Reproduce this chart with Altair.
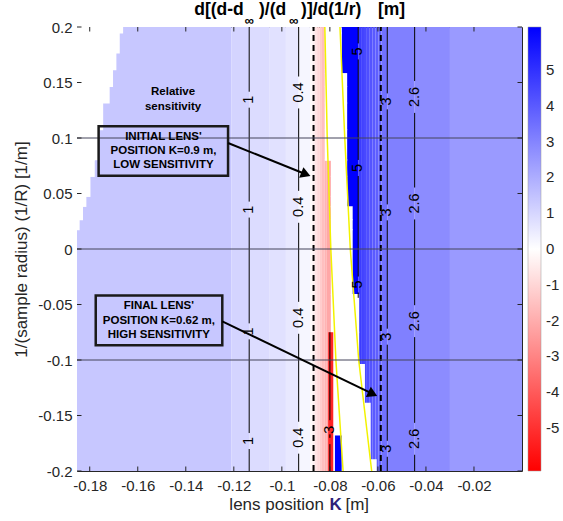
import math
import altair as alt
import pandas as pd

FONT = "Liberation Sans"
INK = "#262626"

# ---------------- axes / scales ----------------
X_MIN, X_MAX = -0.1853, 0.0
Y_MIN, Y_MAX = -0.2, 0.2
PLOT_W, PLOT_H = 445, 444
X_TICKS = [-0.18, -0.16, -0.14, -0.12, -0.1, -0.08, -0.06, -0.04, -0.02]
Y_TICKS = [-0.2, -0.15, -0.1, -0.05, 0, 0.05, 0.1, 0.15, 0.2]
CBAR_TICKS = [-5, -4, -3, -2, -1, 0, 1, 2, 3, 4, 5]
C_DOMAIN = [-6.2, 0, 6.2]
C_RANGE = ["#ff0000", "#ffffff", "#0000ff"]
Y_TITLE = "1/(sample radius) (1/R)  [1/m]"

# ---------------- heat map (vertical bands) ----------------
LEFT_EDGES = [-0.1853, -0.1210, -0.1136, -0.1053, -0.0983, -0.0930, -0.0883,
              -0.0873, -0.0863, -0.0853, -0.0843, -0.0833, -0.0823, -0.0813,
              -0.0803, -0.0796, -0.0786]
LEFT_VALS = [1.35, 1.05, 0.85, 0.72, 0.56, 0.22, -0.1, -0.35, -0.65, -0.95,
             -1.25, -1.55, -1.85, -2.15, -2.45, -2.7]
RIGHT_EDGES = [-0.0751, -0.0682, -0.0670, -0.0658, -0.0646, -0.0634, -0.0622,
               -0.0610, -0.0598, -0.0585, -0.0561, -0.0447, -0.0300, 0.0]
RIGHT_VALS = [6.5, 4.75, 4.6, 4.45, 4.3, 4.15, 4.0, 3.9, 3.8, 3.45, 3.1, 2.8, 2.45]

# white (no data) staircase on the left
WHITE_Y = [0.2, 0.1946, 0.1766, 0.1615, 0.1465, 0.1315, 0.1075, 0.0805, 0.0654,
           0.0474, 0.0384, 0.0264, 0.0174, -0.2]
WHITE_X = [-0.1661, -0.1675, -0.1689, -0.1703, -0.1717, -0.1744, -0.1763, -0.1779,
           -0.1797, -0.1814, -0.1828, -0.1842, -0.1853]
# white (no data) gap between red and blue parts
GAPL_Y = [0.2, 0.08, -0.075, -0.2]
GAPL_X = [-0.0821, -0.0796, -0.0786]
GAPR_Y = [0.2, 0.158, 0.038, -0.041, -0.104, -0.139, -0.19, -0.2]
GAPR_X = [-0.0751, -0.0728, -0.0705, -0.0678, -0.0654, -0.0630, -0.0605]
# narrow strips at the bottom
STRIP_X0 = [-0.0807, -0.0779]
STRIP_X1 = [-0.0786, -0.0751]
STRIP_Y0 = [-0.2, -0.2]
STRIP_Y1 = [-0.075, -0.168]
STRIP_V = [-5.3, 6.5]

# yellow curves
YEL_Y = [0.2, 0.1, 0.0, -0.1, -0.2]
YEL_A_X = [-0.0821, -0.0811, -0.0796, -0.0775, -0.0745]
YEL_B_X = [-0.0758, -0.0738, -0.0715, -0.0680, -0.0626]

# black contour lines and their labels
C_X = [-0.1136, -0.0930, -0.0682, -0.0561, -0.0447, -0.0800]
C_LABEL = ["1", "0.4", "5", "3", "2.6", "-3"]
C_YTOP = [0.2, 0.2, 0.2, 0.2, 0.2, -0.075]
C_YBOT = [-0.2, -0.2, -0.044, -0.2, -0.2, -0.2]
C_LABEL_Y = [[0.1345, 0.0355, -0.0742, -0.173],
             [0.141, 0.038, -0.062, -0.170],
             [0.178, 0.073, -0.032],
             [0.133, 0.033, -0.079, -0.180],
             [0.137, 0.041, -0.065, -0.171],
             [-0.165]]

DASH_X = [-0.0868, -0.0588]
HLINE_Y = [0.1, 0.0, -0.1]

# annotations
NOTE_TEXT = ["Relative", "sensitivity"]
NOTE_X = [-0.1453, -0.1453]
NOTE_Y = [0.141, 0.128]
BOX_X0 = [-0.1763, -0.1775]
BOX_X1 = [-0.1224, -0.1248]
BOX_Y0 = [0.1105, -0.042]
BOX_Y1 = [0.0661, -0.0867]
BOX_TEXT = ["INITIAL LENS'", "POSITION K=0.9 m,", "LOW SENSITIVITY",
            "FINAL LENS'", "POSITION K=0.62 m,", "HIGH SENSITIVITY"]
BOX_TEXT_X = [-0.1493, -0.1493, -0.1493, -0.1512, -0.1512, -0.1512]
BOX_TEXT_Y = [0.1008, 0.0879, 0.0753, -0.0517, -0.0646, -0.0772]
ARROW_X0 = [-0.1224, -0.1248]
ARROW_Y0 = [0.0955, -0.0652]
ARROW_X1 = [-0.0878, -0.0600]
ARROW_Y1 = [0.0654, -0.1328]

TITLE_MAIN = ["d[(d-d", ")/(d", ")]/d(1/r)", "[m]"]
TITLE_MAIN_X = [-0.1365, -0.1095, -0.0920, -0.0600]
TITLE_SUB = ["\u221e", "\u221e"]
TITLE_SUB_X = [-0.1156, -0.0970]
TITLE_Y = 0.2150
TITLE_SUB_Y = 0.2057
XTITLE_Y = -0.2304

# ---------------- build tables ----------------
def lookup(ys, xs, y):
    for i in range(len(xs)):
        if ys[i] >= y >= ys[i + 1]:
            return xs[i]
    return xs[-1]

# full-height colour columns
cols = []
for j, v in enumerate(LEFT_VALS):
    cols.append(dict(x=LEFT_EDGES[j], x2=LEFT_EDGES[j + 1], y=Y_MIN, y2=Y_MAX, v=v))
for j, v in enumerate(RIGHT_VALS):
    cols.append(dict(x=RIGHT_EDGES[j], x2=RIGHT_EDGES[j + 1], y=Y_MIN, y2=Y_MAX, v=v))
cols_df = pd.DataFrame(cols)

# no-data (white) areas, row by row
all_y = sorted(set(WHITE_Y + GAPL_Y + GAPR_Y), reverse=True)
OV = 0.0005
blank = []
for i in range(len(all_y) - 1):
    yt, yb = all_y[i], all_y[i + 1]
    ym = 0.5 * (yt + yb)
    wx = lookup(WHITE_Y, WHITE_X, ym)
    gl = lookup(GAPL_Y, GAPL_X, ym)
    gr = lookup(GAPR_Y, GAPR_X, ym)
    y0 = max(Y_MIN, yb - OV)
    y1 = min(Y_MAX, yt + OV)
    if wx > X_MIN:
        blank.append(dict(x=X_MIN, x2=wx, y=y0, y2=y1))
    blank.append(dict(x=gl, x2=gr, y=y0, y2=y1))
blank_df = pd.DataFrame(blank)

strip_df = pd.DataFrame(dict(x=STRIP_X0, x2=STRIP_X1, y=STRIP_Y0, y2=STRIP_Y1, v=STRIP_V))

yel_df = pd.DataFrame(
    [dict(x=xv, y=yv, line="A", o=i) for i, (xv, yv) in enumerate(zip(YEL_A_X, YEL_Y))]
    + [dict(x=xv, y=yv, line="B", o=i) for i, (xv, yv) in enumerate(zip(YEL_B_X, YEL_Y))]
)

seg, labs = [], []
for cx, lab, ytop, ybot, lys in zip(C_X, C_LABEL, C_YTOP, C_YBOT, C_LABEL_Y):
    half = (len(lab) * 0.55 * 14.5 + 8) / 2 / (PLOT_H / 0.4)
    cur = ytop
    for ly in sorted(lys, reverse=True):
        if cur > ly + half:
            seg.append(dict(x=cx, y=cur, y2=ly + half))
        cur = ly - half
        labs.append(dict(x=cx, y=ly, t=lab))
    if cur > ybot:
        seg.append(dict(x=cx, y=cur, y2=ybot))
seg_df = pd.DataFrame(seg)
lab_df = pd.DataFrame(labs)

dash_df = pd.DataFrame(dict(x=DASH_X, y=[Y_MIN] * 2, y2=[Y_MAX] * 2))
hline_df = pd.DataFrame(dict(y=HLINE_Y, x=[X_MIN] * 3, x2=[X_MAX] * 3))
note_df = pd.DataFrame(dict(x=NOTE_X, y=NOTE_Y, t=NOTE_TEXT))
box_df = pd.DataFrame(dict(x=BOX_X0, x2=BOX_X1, y=BOX_Y0, y2=BOX_Y1))
boxt_df = pd.DataFrame(dict(x=BOX_TEXT_X, y=BOX_TEXT_Y, t=BOX_TEXT))

PXX = PLOT_W / (X_MAX - X_MIN)
PXY = PLOT_H / (Y_MAX - Y_MIN)
HEAD_SIZE = 130
head_r = math.sqrt(HEAD_SIZE) / 2
arrows, heads, angles = [], [], []
for x0, y0, x1, y1 in zip(ARROW_X0, ARROW_Y0, ARROW_X1, ARROW_Y1):
    dx = (x1 - x0) * PXX
    dy = -(y1 - y0) * PXY
    L = math.hypot(dx, dy)
    ux, uy = dx / L, dy / L
    cxp = x1 - head_r * ux / PXX
    cyp = y1 + head_r * uy / PXY
    arrows.append(dict(x=x0, y=y0, x2=cxp, y2=cyp))
    heads.append(dict(x=cxp, y=cyp))
    angles.append(math.degrees(math.atan2(dy, dx)))
arrow_df = pd.DataFrame(arrows)

TL = 4.5
tick_rows = []
for t in X_TICKS:
    tick_rows.append(dict(x=t, x2=t, y=Y_MIN, y2=Y_MIN + TL / PXY))
    tick_rows.append(dict(x=t, x2=t, y=Y_MAX, y2=Y_MAX - TL / PXY))
for t in Y_TICKS:
    tick_rows.append(dict(x=X_MIN, x2=X_MIN + TL / PXX, y=t, y2=t))
    tick_rows.append(dict(x=X_MAX, x2=X_MAX - TL / PXX, y=t, y2=t))
tick_df = pd.DataFrame(tick_rows)

title_df = pd.DataFrame(dict(x=TITLE_MAIN_X, y=[TITLE_Y] * len(TITLE_MAIN), t=TITLE_MAIN))
tsub_df = pd.DataFrame(dict(x=TITLE_SUB_X, y=[TITLE_SUB_Y] * len(TITLE_SUB), t=TITLE_SUB))

# ---------------- chart ----------------
xs = alt.Scale(domain=[X_MIN, X_MAX], nice=False, zero=False)
ys = alt.Scale(domain=[Y_MIN, Y_MAX], nice=False, zero=False)
cs = alt.Scale(type="linear", domain=C_DOMAIN, range=C_RANGE, interpolate="rgb", clamp=True)

X_AXIS = alt.Axis(values=X_TICKS, labelExpr="'' + datum.value", labelFontSize=15,
                  labelFont=FONT, labelColor=INK, tickSize=0, domain=False,
                  grid=False, labelPadding=7, title="")
Y_AXIS = alt.Axis(values=Y_TICKS, labelExpr="'' + datum.value", labelFontSize=15,
                  labelFont=FONT, labelColor=INK, tickSize=0, domain=False,
                  grid=False, labelPadding=5, titleFont=FONT, titleFontSize=17,
                  titleFontWeight="normal", titleColor=INK, titlePadding=7, title=Y_TITLE)
LEGEND = alt.Legend(type="gradient", orient="none", legendX=451, legendY=0,
                    direction="vertical", gradientLength=PLOT_H,
                    gradientThickness=13, values=CBAR_TICKS, title="",
                    labelExpr="'' + datum.value", labelFontSize=15,
                    labelFont=FONT, labelColor=INK, labelOffset=5,
                    labelOverlap=False, gradientStrokeColor="#999999",
                    gradientStrokeWidth=0.5, padding=0, titlePadding=0)


def X(f="x"):
    return alt.X(f + ":Q", scale=xs, axis=X_AXIS)


def Y(f="y"):
    return alt.Y(f + ":Q", scale=ys, axis=Y_AXIS)


cols_layer = alt.Chart(cols_df).mark_rect().encode(
    x=X(), x2="x2:Q", y=Y(), y2="y2:Q",
    color=alt.Color("v:Q", scale=cs, legend=LEGEND),
)

blank_layer = alt.Chart(blank_df).mark_rect(color="white", opacity=1).encode(
    x=X(), x2="x2:Q", y=Y(), y2="y2:Q")

strip_layer = alt.Chart(strip_df).mark_rect().encode(
    x=X(), x2="x2:Q", y=Y(), y2="y2:Q",
    color=alt.Color("v:Q", scale=cs, legend=LEGEND),
)

yel_layer = alt.Chart(yel_df).mark_line(color="#f2f200", strokeWidth=1.5).encode(
    x=X(), y=Y(), detail="line:N", order="o:Q")

seg_layer = alt.Chart(seg_df).mark_rule(color="black", strokeWidth=1).encode(
    x=X(), y=Y(), y2="y2:Q")

lab_layer = alt.Chart(lab_df).mark_text(angle=270, fontSize=14.5, font=FONT, color="black",
                                        baseline="middle", align="center").encode(
    x=X(), y=Y(), text="t:N")

dash_layer = alt.Chart(dash_df).mark_rule(color="black", strokeWidth=2, strokeDash=[6, 4]).encode(
    x=X(), y=Y(), y2="y2:Q")

hline_layer = alt.Chart(hline_df).mark_rule(color="#45455a", strokeWidth=1).encode(
    y=Y(), x=X(), x2="x2:Q")

tick_layer = alt.Chart(tick_df).mark_rule(color=INK, strokeWidth=1).encode(
    x=X(), x2="x2:Q", y=Y(), y2="y2:Q")

note_layer = alt.Chart(note_df).mark_text(fontSize=11.5, fontWeight="bold", font=FONT,
                                          color="black", align="center", baseline="middle").encode(
    x=X(), y=Y(), text="t:N")

box_layer = alt.Chart(box_df).mark_rect(fillOpacity=0, stroke="#1a1a1a", strokeWidth=2.5).encode(
    x=X(), x2="x2:Q", y=Y(), y2="y2:Q")

boxt_layer = alt.Chart(boxt_df).mark_text(fontSize=11.5, fontWeight="bold", font=FONT,
                                          color="black", align="center", baseline="middle").encode(
    x=X(), y=Y(), text="t:N")

arrow_layer = alt.Chart(arrow_df).mark_rule(color="black", strokeWidth=2).encode(
    x=X(), y=Y(), x2="x2:Q", y2="y2:Q")

head_layers = [
    alt.Chart(pd.DataFrame([h])).mark_point(shape="triangle-right", filled=True, size=HEAD_SIZE,
                                            color="black", opacity=1, angle=a).encode(x=X(), y=Y())
    for h, a in zip(heads, angles)
]

title_layer = alt.Chart(title_df).mark_text(fontSize=17.5, fontWeight="bold", font=FONT,
                                            color="black", align="left", baseline="middle").encode(
    x=X(), y=Y(), text="t:N")
tsub_layer = alt.Chart(tsub_df).mark_text(fontSize=13, fontWeight="bold", font=FONT,
                                          color="black", align="left", baseline="middle").encode(
    x=X(), y=Y(), text="t:N")

xt1 = alt.Chart(pd.DataFrame(dict(x=[-0.0825], y=[XTITLE_Y], t=["lens position"]))).mark_text(
    fontSize=17, font=FONT, color=INK, align="right", baseline="middle").encode(x=X(), y=Y(), text="t:N")
xt2 = alt.Chart(pd.DataFrame(dict(x=[-0.0776], y=[XTITLE_Y], t=["K"]))).mark_text(
    fontSize=17, font=FONT, fontWeight="bold", color="#2e1f7a", align="center",
    baseline="middle").encode(x=X(), y=Y(), text="t:N")
xt3 = alt.Chart(pd.DataFrame(dict(x=[-0.0735], y=[XTITLE_Y], t=["[m]"]))).mark_text(
    fontSize=17, font=FONT, color=INK, align="left", baseline="middle").encode(x=X(), y=Y(), text="t:N")

chart = alt.layer(
    cols_layer, blank_layer, strip_layer, yel_layer, seg_layer, lab_layer, dash_layer,
    hline_layer, tick_layer, note_layer, box_layer, boxt_layer, arrow_layer, *head_layers,
    title_layer, tsub_layer, xt1, xt2, xt3,
).properties(
    width=PLOT_W, height=PLOT_H,
    autosize=alt.AutoSizeParams(type="none"),
    padding={"left": 77, "top": 27, "right": 41, "bottom": 50},
    background="white",
).configure(font=FONT).configure_view(stroke=INK, strokeWidth=1)

chart.save("out.html", embed_options={"renderer": "svg", "actions": False})
